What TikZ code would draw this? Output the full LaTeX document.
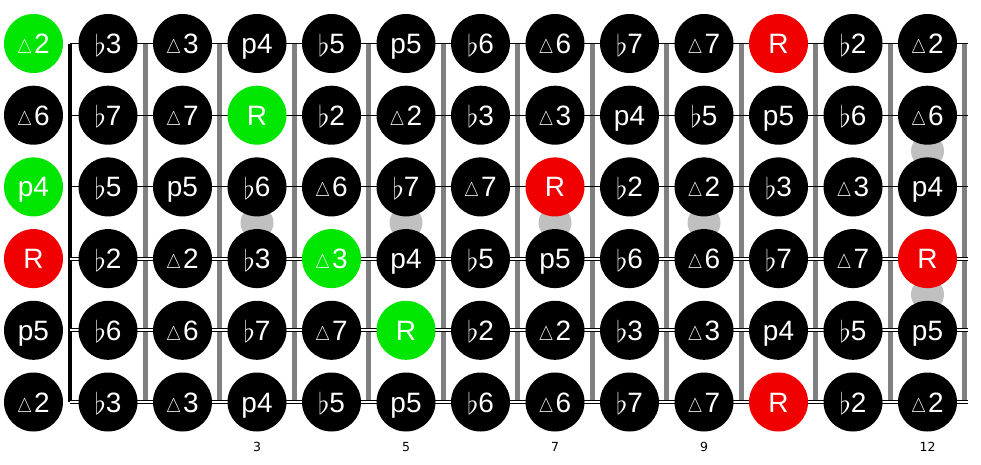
\documentclass[tikz,border=0pt]{standalone}
\usepackage{graphicx}
\usepackage{fontspec}
\setmainfont{Liberation Sans}
\newfontfamily\numfont{DejaVu Sans}
\definecolor{rootred}{RGB}{240,0,0}
\definecolor{scalegreen}{RGB}{0,230,0}
\definecolor{fretgray}{RGB}{128,128,128}
\definecolor{dotgray}{RGB}{192,192,192}
\newcommand\fl{\raisebox{-2.5pt}{\scalebox{1.2}{$\flat$}}}
\newcommand\mj{\scalebox{0.68}[0.8]{$\triangle$}\hspace{2pt}}
\tikzset{
  note/.style={circle, fill=black, minimum size=59pt, inner sep=0pt, text=white,
    font=\fontsize{28}{28}\selectfont, text height=20pt, text depth=0pt},
  blacknote/.style={note},
  greennote/.style={note, fill=scalegreen},
  rednote/.style={note, fill=rootred},
  fretline/.style={fretgray, line width=5pt},
  plainstring/.style={line width=1pt},
  woundstring/.style={double, double distance=2pt, line width=1pt},
  inlay/.style={fill=dotgray},
  fretnum/.style={font=\numfont\fontsize{12.5}{12.5}\selectfont}
}

\begin{document}
\begin{tikzpicture}[x=1pt, y=-1pt]
    \useasboundingbox (0, 0) rectangle (981, 464);

    % frets and nut
    \foreach \k in {1,...,12}
        \draw [fretline] ({70.75+74.5*\k}, 43.5) -- ({70.75+74.5*\k}, 402);
    \draw [line width=4pt] (70, 43.5) -- (70, 402);

    % strings
    \foreach \r in {1,2,3}
        \draw [plainstring] (70, {43.5+71.7*(\r-1)}) -- (968, {43.5+71.7*(\r-1)});
    \foreach \r in {4,5,6}
        \draw [woundstring] (70, {43.5+71.7*(\r-1)}) -- (968, {43.5+71.7*(\r-1)});

    % inlays
    \foreach \c in {3,5,7,9}
        \fill [inlay] ({33.5+74.5*\c}, 222.75) circle (16.5);
    \fill [inlay] (927.5, 151) circle (16.5);
    \fill [inlay] (927.5, 294.5) circle (16.5);

    % notes
    \foreach \st/\lab [count=\c from 0] in {greennote/\mj2, blacknote/\fl3, blacknote/\mj3, blacknote/p4, blacknote/\fl5, blacknote/p5, blacknote/\fl6, blacknote/\mj6, blacknote/\fl7, blacknote/\mj7, rednote/R, blacknote/\fl2, blacknote/\mj2}
        \node [\st] (n1-\c) at ({33.5+74.5*\c}, 43.5) {\lab};
    \foreach \st/\lab [count=\c from 0] in {blacknote/\mj6, blacknote/\fl7, blacknote/\mj7, greennote/R, blacknote/\fl2, blacknote/\mj2, blacknote/\fl3, blacknote/\mj3, blacknote/p4, blacknote/\fl5, blacknote/p5, blacknote/\fl6, blacknote/\mj6}
        \node [\st] (n2-\c) at ({33.5+74.5*\c}, 115.2) {\lab};
    \foreach \st/\lab [count=\c from 0] in {greennote/p4, blacknote/\fl5, blacknote/p5, blacknote/\fl6, blacknote/\mj6, blacknote/\fl7, blacknote/\mj7, rednote/R, blacknote/\fl2, blacknote/\mj2, blacknote/\fl3, blacknote/\mj3, blacknote/p4}
        \node [\st] (n3-\c) at ({33.5+74.5*\c}, 186.9) {\lab};
    \foreach \st/\lab [count=\c from 0] in {rednote/R, blacknote/\fl2, blacknote/\mj2, blacknote/\fl3, greennote/\mj3, blacknote/p4, blacknote/\fl5, blacknote/p5, blacknote/\fl6, blacknote/\mj6, blacknote/\fl7, blacknote/\mj7, rednote/R}
        \node [\st] (n4-\c) at ({33.5+74.5*\c}, 258.6) {\lab};
    \foreach \st/\lab [count=\c from 0] in {blacknote/p5, blacknote/\fl6, blacknote/\mj6, blacknote/\fl7, blacknote/\mj7, greennote/R, blacknote/\fl2, blacknote/\mj2, blacknote/\fl3, blacknote/\mj3, blacknote/p4, blacknote/\fl5, blacknote/p5}
        \node [\st] (n5-\c) at ({33.5+74.5*\c}, 330.3) {\lab};
    \foreach \st/\lab [count=\c from 0] in {blacknote/\mj2, blacknote/\fl3, blacknote/\mj3, blacknote/p4, blacknote/\fl5, blacknote/p5, blacknote/\fl6, blacknote/\mj6, blacknote/\fl7, blacknote/\mj7, rednote/R, blacknote/\fl2, blacknote/\mj2}
        \node [\st] (n6-\c) at ({33.5+74.5*\c}, 402) {\lab};

    % fret numbers
    \foreach \c in {3,5,7,9,12}
        \node [fretnum] (f\c) at ({33.5+74.5*\c}, 447) {\c};
\end{tikzpicture}
\end{document}
